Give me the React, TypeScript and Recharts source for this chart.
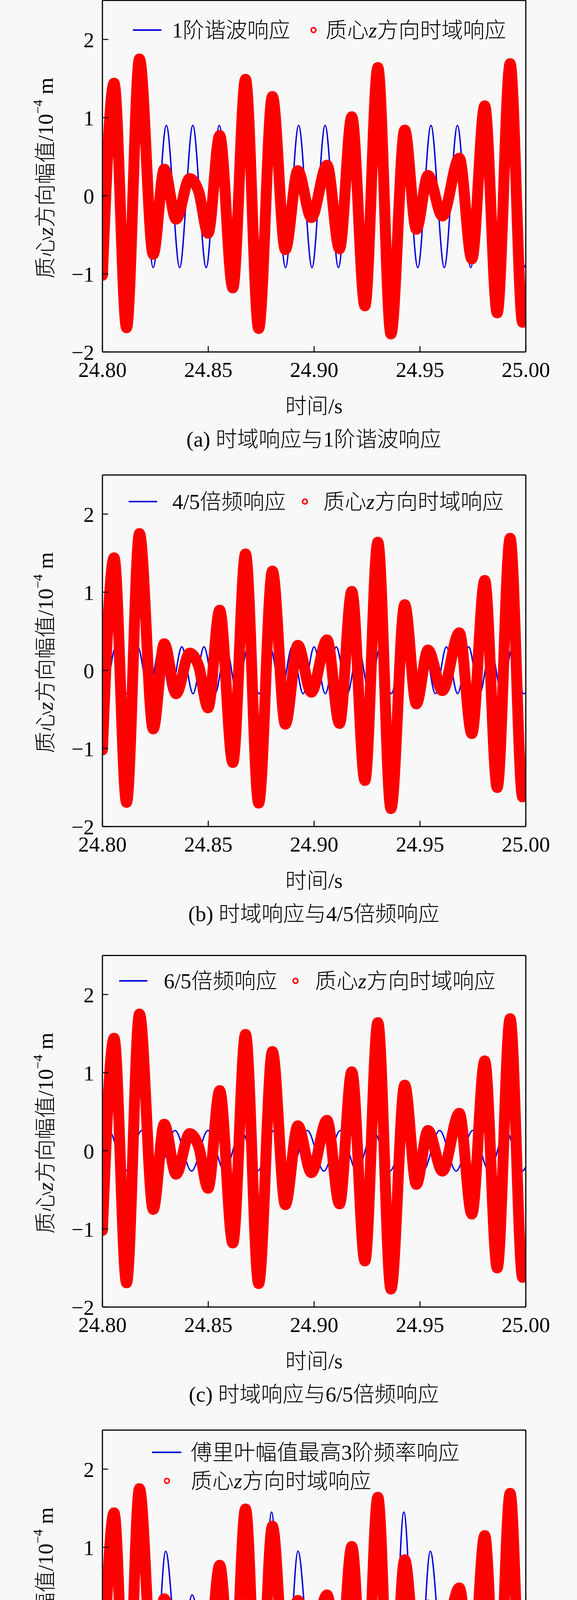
import React from 'react';
import { LineChart, Line, XAxis, YAxis } from 'recharts';

// axis ticks
const xTicks = [24.8, 24.85, 24.9, 24.95, 25.0];
const yTicks = [-2, -1, 0, 1, 2];

// 质心z方向时域响应 (same trace in every panel), extrema
const redT = [
  24.8, 24.8055, 24.8114, 24.8175, 24.824, 24.8292, 24.8348, 24.8412, 24.8455, 24.8499,
  24.8554, 24.8616, 24.8676, 24.8738, 24.8803, 24.8864, 24.8923, 24.8987, 24.9061, 24.912,
  24.9178, 24.924, 24.9301, 24.9363, 24.9428, 24.9483, 24.9538, 24.9606, 24.9686, 24.9745,
  24.9806, 24.9865, 24.9926, 24.9985, 25.0,
];
const redV = [
  -1.02, 1.44, -1.69, 1.75, -0.75, 0.34, -0.3, 0.22, 0.05, -0.48,
  0.77, -1.18, 1.49, -1.7, 1.27, -0.69, 0.32, -0.28, 0.39, -0.68,
  1.01, -1.41, 1.64, -1.77, 0.84, -0.43, 0.26, -0.26, 0.48, -0.81,
  1.15, -1.5, 1.69, -1.62, -1.4,
];

// (a) 1阶谐波响应
const blue1T = [
  24.8, 24.8052, 24.8115, 24.8177, 24.824, 24.8302, 24.8365, 24.8427, 24.849, 24.8552,
  24.8615, 24.8677, 24.874, 24.8802, 24.8865, 24.8927, 24.899, 24.9052, 24.9115, 24.9177,
  24.924, 24.9302, 24.9365, 24.9427, 24.949, 24.9552, 24.9615, 24.9677, 24.974, 24.9802,
  24.9865, 24.9927, 24.999, 25.0,
];
const blue1V = [
  -0.81, 0.9, -0.92, 0.9, -0.92, 0.9, -0.92, 0.9, -0.92, 0.9,
  -0.92, 0.9, -0.92, 0.9, -0.92, 0.9, -0.92, 0.9, -0.92, 0.9,
  -0.92, 0.9, -0.92, 0.9, -0.92, 0.9, -0.92, 0.9, -0.92, 0.9,
  -0.92, 0.9, -0.92, -0.88,
];

// (b) 4/5倍频响应
const blue2T = [
  24.8, 24.8011, 24.8063, 24.8115, 24.8167, 24.8219, 24.8271, 24.8323, 24.8375, 24.8428,
  24.848, 24.8532, 24.8584, 24.8636, 24.8688, 24.874, 24.8792, 24.8844, 24.8896, 24.8948,
  24.9, 24.9053, 24.9105, 24.9157, 24.9209, 24.9261, 24.9313, 24.9365, 24.9417, 24.9469,
  24.9521, 24.9573, 24.9625, 24.9678, 24.973, 24.9782, 24.9834, 24.9886, 24.9938, 24.999,
  25.0,
];
const blue2V = [
  -0.29, -0.3, 0.3, -0.3, 0.3, -0.3, 0.3, -0.3, 0.3, -0.3,
  0.3, -0.3, 0.3, -0.3, 0.3, -0.3, 0.3, -0.3, 0.3, -0.3,
  0.3, -0.3, 0.3, -0.3, 0.3, -0.3, 0.3, -0.3, 0.3, -0.3,
  0.3, -0.3, 0.3, -0.3, 0.3, -0.3, 0.3, -0.3, 0.3, -0.3,
  -0.29,
];

// (c) 6/5倍频响应
const blue3T = [
  24.8, 24.803, 24.8108, 24.8186, 24.8264, 24.8343, 24.8421, 24.8499, 24.8577, 24.8655,
  24.8733, 24.8811, 24.8889, 24.8968, 24.9046, 24.9124, 24.9202, 24.928, 24.9358, 24.9436,
  24.9514, 24.9593, 24.9671, 24.9749, 24.9827, 24.9905, 24.9983, 25.0,
];
const blue3V = [
  0.09, 0.26, -0.26, 0.26, -0.26, 0.26, -0.26, 0.26, -0.26, 0.26,
  -0.26, 0.26, -0.26, 0.26, -0.26, 0.26, -0.26, 0.26, -0.26, 0.26,
  -0.26, 0.26, -0.26, 0.26, -0.26, 0.26, -0.26, -0.21,
];

// (d) 傅里叶幅值最高3阶频率响应
const blue4T = [
  24.8, 24.8049, 24.8112, 24.8174, 24.8237, 24.8299, 24.8362, 24.8424, 24.8487, 24.8549,
  24.8612, 24.8674, 24.8737, 24.8799, 24.8862, 24.8924, 24.8987, 24.9049, 24.9112, 24.9174,
  24.9237, 24.9299, 24.9362, 24.9424, 24.9487, 24.9549, 24.9612, 24.9674, 24.9737, 24.9799,
  24.9862, 24.9924, 24.9987, 25.0,
];
const blue4V = [
  -0.8, 1.36, -1.52, 1.45, -1.26, 0.95, -0.61, 0.39, -0.42, 0.7,
  -1.05, 1.36, -1.52, 1.45, -1.26, 0.95, -0.61, 0.39, -0.42, 0.7,
  -1.05, 1.36, -1.52, 1.45, -1.26, 0.95, -0.61, 0.39, -0.42, 0.7,
  -1.05, 1.36, -1.52, -1.45,
];

const blueNames = ['1阶谐波响应', '4/5倍频响应', '6/5倍频响应', '傅里叶幅值最高3阶频率响应'];
const captions = [
  '(a) 时域响应与1阶谐波响应',
  '(b) 时域响应与4/5倍频响应',
  '(c) 时域响应与6/5倍频响应',
  '(d) 时域响应与傅里叶幅值最高3阶频率响应',
];

const rows = (ts: number[], vs: number[]) => ts.map((t, i) => ({ t, v: vs[i] }));
const red = rows(redT, redV);

const FONT = '"Liberation Serif", "Times New Roman", "Noto Sans CJK SC", serif';
const BLUE = '#0000dd';
const RED = '#ff0000';
const BG = '#f8f8f8';
const axisLine = { stroke: '#000', strokeWidth: 3 };
const tickLine = { stroke: '#000', strokeWidth: 2.5 };
const fmtY = (v: number) => (v < 0 ? '\u2212' + Math.abs(v) : String(v));

// the page is exactly the picture, no body margin
if (typeof document !== 'undefined') {
  document.body.style.margin = '0';
  document.body.style.background = BG;
}

// layout of each panel: plot top in page px, legend item positions
const layouts = [
  { top: 1, legend: { y: 86, line: [340, 413], text1: 440, marker: 802, text2: 833, y2: 86 } },
  { top: 1216, legend: { y: 78, line: [329, 402], text1: 441, marker: 780, text2: 827, y2: 78 } },
  { top: 2446, legend: { y: 75, line: [305, 377], text1: 419, marker: 756, text2: 806, y2: 75 } },
  { top: 3661, legend: { y: 67, line: [389, 464], text1: 488, marker: 427, text2: 488, y2: 140 } },
];

const YLabel = () => (
  <text
    x={116}
    y={465}
    transform="rotate(-90 116 465)"
    textAnchor="middle"
    dominantBaseline="central"
    fontSize={55}
    fontWeight={300}
    fontFamily={FONT}
    fill="#000"
  >
    质心<tspan fontStyle="italic">z</tspan>方向幅值/10
    <tspan fontSize={34} dy={-20}>{'\u2212'}4</tspan>
    <tspan dy={20}> m</tspan>
  </text>
);

const XLabel = () => (
  <text
    x={803}
    y={1048}
    textAnchor="middle"
    dominantBaseline="central"
    fontSize={55}
    fontWeight={300}
    fontFamily={FONT}
    fill="#000"
  >
    时间/s
  </text>
);

function Panel({ index }: { index: number }) {
  const { top, legend } = layouts[index];
  const blue = rows([blue1T, blue2T, blue3T, blue4T][index], [blue1V, blue2V, blue3V, blue4V][index]);
  return (
    <div style={{ position: 'absolute', left: 0, top: top - 10, width: 1476, height: 1205 }}>
      <LineChart width={1476} height={1080} margin={{ top: 0, right: 0, bottom: 0, left: 0 }}>
        <Line
          data={blue}
          dataKey="v"
          type="monotone"
          stroke={BLUE}
          strokeWidth={3.5}
          dot={false}
          activeDot={false}
          isAnimationActive={false}
        />
        <Line
          data={red}
          dataKey="v"
          type="monotone"
          stroke={RED}
          strokeWidth={28}
          strokeLinejoin="round"
          strokeLinecap="round"
          dot={false}
          activeDot={false}
          isAnimationActive={false}
        />
        <XAxis
          xAxisId="top"
          orientation="top"
          type="number"
          dataKey="t"
          domain={[24.8, 25]}
          ticks={xTicks}
          allowDataOverflow
          height={10}
          tick={false}
          tickSize={-15}
          axisLine={axisLine}
          tickLine={tickLine}
        />
        <XAxis
          type="number"
          dataKey="t"
          domain={[24.8, 25]}
          ticks={xTicks}
          allowDataOverflow
          height={170}
          tickSize={-15}
          tickMargin={40}
          tickFormatter={(v: number) => v.toFixed(2)}
          tick={{ fontSize: 55, fill: '#000', fontFamily: FONT }}
          axisLine={axisLine}
          tickLine={tickLine}
          label={<XLabel />}
        />
        <YAxis
          type="number"
          domain={[-2, 2.5]}
          ticks={yTicks}
          allowDataOverflow
          width={262}
          tickSize={-15}
          tickMargin={36}
          tickFormatter={fmtY}
          tick={{ fontSize: 55, fill: '#000', fontFamily: FONT }}
          axisLine={axisLine}
          tickLine={tickLine}
          label={<YLabel />}
        />
        <YAxis
          yAxisId="right"
          orientation="right"
          type="number"
          domain={[-2, 2.5]}
          ticks={yTicks}
          allowDataOverflow
          width={131}
          tick={false}
          tickSize={-15}
          axisLine={axisLine}
          tickLine={tickLine}
        />
      </LineChart>
      <svg
        width={1476}
        height={1205}
        style={{ position: 'absolute', left: 0, top: 0, pointerEvents: 'none' }}
        fontFamily={FONT}
        fontSize={55}
        fontWeight={300}
      >
        <line x1={legend.line[0]} x2={legend.line[1]} y1={legend.y} y2={legend.y} stroke={BLUE} strokeWidth={4} />
        <text x={legend.text1} y={legend.y} dominantBaseline="central" fill="#000">
          {blueNames[index]}
        </text>
        <circle cx={legend.marker} cy={legend.y2} r={6} fill="#fff" stroke={RED} strokeWidth={4} />
        <text x={legend.text2} y={legend.y2} dominantBaseline="central" fill="#000">
          质心<tspan fontStyle="italic">z</tspan>方向时域响应
        </text>
        <text x={803} y={1133} textAnchor="middle" dominantBaseline="central" fill="#000">
          {captions[index]}
        </text>
      </svg>
    </div>
  );
}

export default function App() {
  return (
    <div
      style={{
        position: 'relative',
        width: 1476,
        height: 4819,
        background: BG,
        overflow: 'hidden',
      }}
    >
      {[0, 1, 2, 3].map((i) => (
        <Panel key={i} index={i} />
      ))}
    </div>
  );
}
